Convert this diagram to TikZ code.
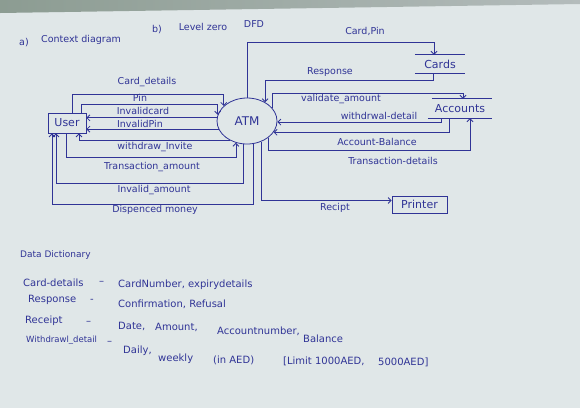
\documentclass[tikz,border=0pt]{standalone}
\usepackage{fontspec}
\setmainfont{DejaVu Sans}
\usetikzlibrary{arrows.meta,shapes.geometric}
\definecolor{ink}{RGB}{48,52,150}
\definecolor{paper}{RGB}{224,231,232}
\definecolor{edgeL}{RGB}{140,156,146}
\definecolor{edgeR}{RGB}{180,188,188}
\begin{document}
\begin{tikzpicture}[x=1pt,y=-1pt,
  lbl/.style={text=ink,font=\fontsize{9.5}{11}\selectfont,inner sep=0pt},
  hd/.style={text=ink,font=\fontsize{9.5}{11}\selectfont,inner sep=0pt},
  dd/.style={text=ink,font=\fontsize{10}{11}\selectfont,inner sep=0pt,anchor=west},
  flow/.style={draw=ink,line width=0.8pt,-{Straight Barb[length=3pt,width=6pt]}},
  procbox/.style={draw=ink,line width=0.8pt,text=ink,font=\fontsize{11}{12}\selectfont,inner sep=1pt},
  procell/.style={ellipse,draw=ink,line width=0.8pt,text=ink,font=\fontsize{12}{13}\selectfont,inner sep=0pt,minimum width=60pt,minimum height=46pt},
  store/.style={text=ink,font=\fontsize{11}{12}\selectfont,inner sep=0pt},
  storeline/.style={draw=ink,line width=0.8pt}]
% paper
\fill[paper] (0,0) rectangle (580,408);
\shade[left color=edgeL,right color=edgeR] (0,0) -- (580,0) -- (580,4) -- (0,13) -- cycle;
\useasboundingbox (0,0) rectangle (580,408);

% headings
\node[hd] (ha) at (24,43) {a)};
\node[hd] (hctx) at (81,40) {Context diagram};
\node[hd] (hb) at (157,30) {b)};
\node[hd] (hlvl) at (203,27) {Level zero};
\node[hd] (hdfd) at (254,24) {DFD};

% nodes
\node[procbox,minimum width=38pt,minimum height=20pt] (User) at (67,123) {User};
\node[procell] (ATM) at (247,121) {ATM};
\node[store,minimum width=50pt,minimum height=18pt] (Cards) at (440,64) {Cards};
\draw[storeline] (Cards.north west) -- (Cards.north east);
\draw[storeline] (Cards.south west) -- (Cards.south east);
\node[store,minimum width=64pt,minimum height=19pt] (Accounts) at (460,108.5) {Accounts};
\draw[storeline] ([xshift=4pt]Accounts.north west) -- (Accounts.north east);
\draw[storeline] (Accounts.south west) -- (Accounts.south east);
\node[procbox,minimum width=55pt,minimum height=17pt] (Printer) at (419.5,204.5) {Printer};

% context flows (left)
\draw[flow] (User.north -| 72,0) |- (ATM.147 |- 0,94) -- (ATM.147);
\draw[flow] (User.north -| 81,0) |- (ATM.168 |- 0,104) -- (ATM.168);
\draw[flow] (ATM.174) -- (ATM.174 -| User.east);
\draw[flow] (ATM.196) -- (ATM.196 -| User.east);
\draw[flow] (ATM.228) -| (User.south -| 79,0);
\draw[flow] (User.south -| 66,0) |- (ATM.243 |- 0,157) -- (ATM.243);
\draw[flow] (ATM.260) -- (ATM.260 |- 0,183) -| (User.south -| 56,0);
\draw[flow] (ATM.285) -- (ATM.285 |- 0,204) -| (User.south -| 52,0);

% level zero flows (right)
\draw[flow] (ATM.88) -- (ATM.88 |- 0,42) -| (Cards.north -| 434,0);
\draw[flow] (Cards.south -| 433,0) |- (ATM.46 |- 0,80) -- (ATM.46);
\draw[flow] (ATM.27) -- (ATM.27 |- 0,93) -| (Accounts.north -| 463,0);
\draw[flow] (Accounts.south -| 441,0) |- (ATM.358);
\draw[flow] (Accounts.south -| 449,0) |- (ATM.337);
\draw[flow] (ATM.322) -- (ATM.322 |- 0,150) -| (Accounts.south -| 470,0);
\draw[flow] (ATM.305) |- ([yshift=4pt]Printer.west);

% flow labels
\node[lbl] (l1) at (147,82) {Card\_details};
\node[lbl] (l2) at (140,98) {Pin};
\node[lbl] (l3) at (143,111) {Invalidcard};
\node[lbl] (l4) at (140,124) {InvalidPin};
\node[lbl] (l5) at (155,147) {withdraw\_Invite};
\node[lbl] (l6) at (152,167) {Transaction\_amount};
\node[lbl] (l7) at (154,190) {Invalid\_amount};
\node[lbl] (l8) at (155,210) {Dispenced money};
\node[lbl] (r1) at (365,31) {Card,Pin};
\node[lbl] (r2) at (330,72) {Response};
\node[lbl] (r3) at (341,99) {validate\_amount};
\node[lbl] (r4) at (379,116) {withdrwal-detail};
\node[lbl] (r5) at (377,142) {Account-Balance};
\node[lbl] (r6) at (393,161) {Transaction-details};
\node[lbl] (r7) at (335,208) {Recipt};

% data dictionary
\node[dd,font=\fontsize{9}{10}\selectfont] (d0) at (20,255) {Data Dictionary};
\node[dd] (d1a) at (23,283) {Card-details};
\node[dd] (d1b) at (99,283) {–};
\node[dd] (d1c) at (118,285) {CardNumber, expirydetails};
\node[dd] (d2a) at (28,300) {Response};
\node[dd] (d2b) at (90,301) {-};
\node[dd] (d2c) at (118,304) {Confirmation, Refusal};
\node[dd] (d3a) at (25,321) {Receipt};
\node[dd] (d3b) at (86,323) {–};
\node[dd] (d3c) at (118,326) {Date,};
\node[dd] (d3d) at (155,327) {Amount,};
\node[dd] (d3e) at (217,331) {Accountnumber,};
\node[dd] (d3f) at (303,339) {Balance};
\node[dd,font=\fontsize{8.5}{10}\selectfont] (d4a) at (26,340) {Withdrawl\_detail};
\node[dd] (d4b) at (107,343) {–};
\node[dd] (d4c) at (123,351) {Daily,};
\node[dd] (d4d) at (158,359) {weekly};
\node[dd] (d4e) at (213,360) {(in AED)};
\node[dd] (d4f) at (283,361) {[Limit 1000AED,};
\node[dd] (d4g) at (378,362) {5000AED]};
\end{tikzpicture}
\end{document}
